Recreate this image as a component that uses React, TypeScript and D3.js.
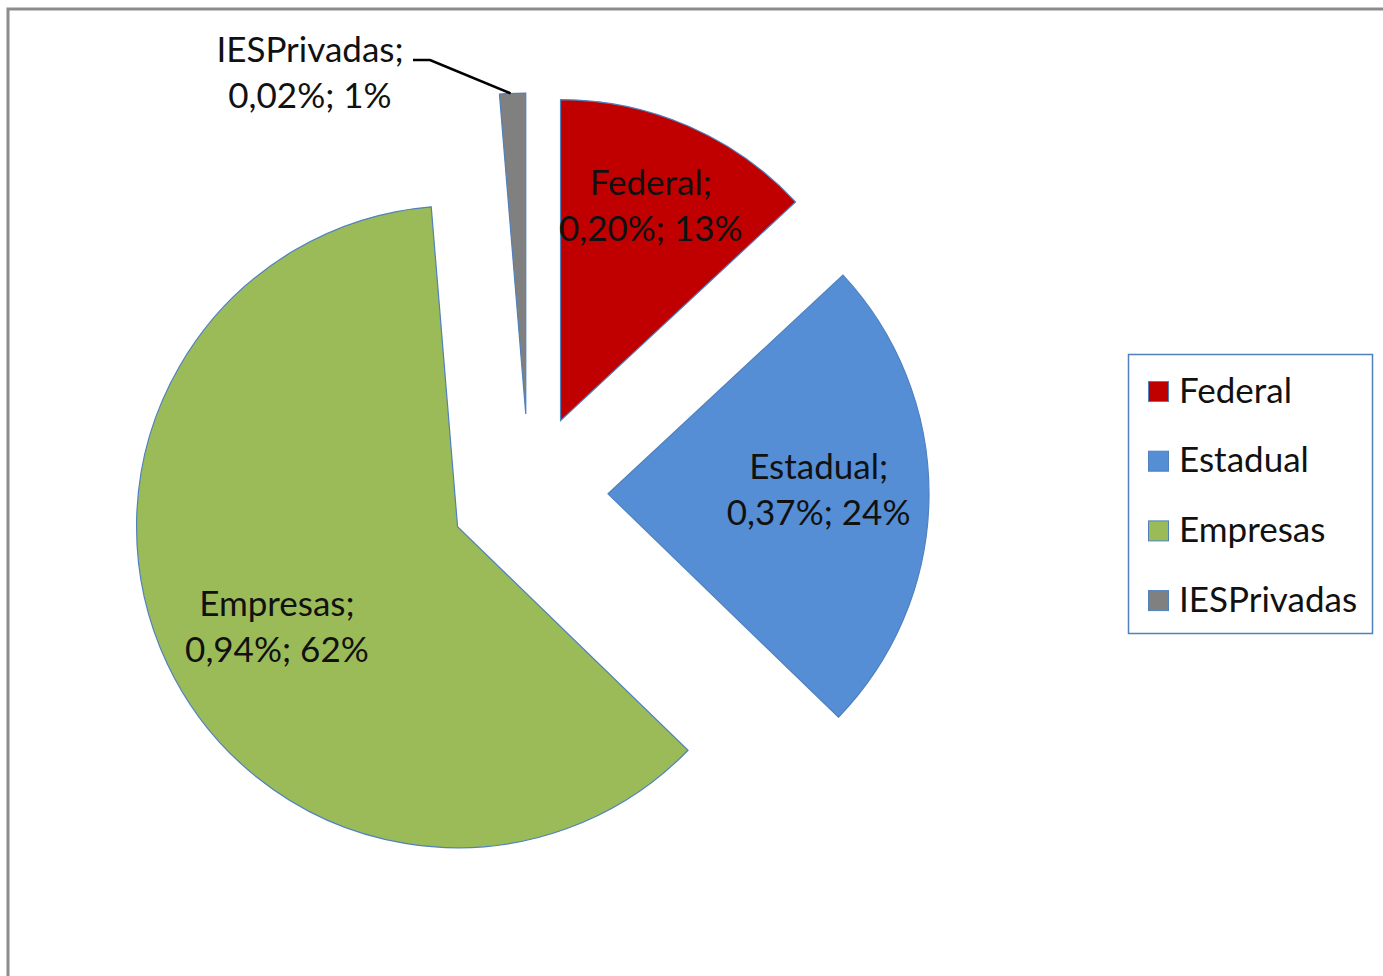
import React from "react";
import * as d3 from "d3";

const categories = ["Federal", "Estadual", "Empresas", "IESPrivadas"];
const values = [0.2, 0.37, 0.94, 0.02];
const valueLabels = ["0,20%", "0,37%", "0,94%", "0,02%"];
const percentLabels = ["13%", "24%", "62%", "1%"];
const colors = ["#C00000", "#558ED5", "#9BBB59", "#808080"];

const W = 1383;
const H = 976;
const CX = 529;
const CY = 493;
const R = 321;
const EXPLODE = 79;
const FONT = "Lato, 'Open Sans', sans-serif";
const FS = 35;

export default function App() {
  const pie = d3
    .pie<number>()
    .sort(null)
    .value((d) => d)
    .startAngle(0)
    .endAngle(2 * Math.PI);
  const arcs = pie(values);
  const arc = d3.arc<d3.PieArcDatum<number>>().innerRadius(0).outerRadius(R);

  const off = (a: number, d: number) => [Math.sin(a) * d, -Math.cos(a) * d];
  const labelFrac = [0.72, 0.65, 0.65, 0];
  const nudge = [
    [-2, -3],
    [2, -6],
    [8, 11],
    [0, 0],
  ];

  return (
    <svg
      width={W}
      height={H}
      style={{ position: "absolute", left: 0, top: 0, background: "#fff" }}
    >
      <rect x={8} y={9} width={2000} height={2000} fill="#fff" stroke="#8c8c8c" strokeWidth={3} />
      {arcs.map((a, i) => {
        const mid = (a.startAngle + a.endAngle) / 2;
        const [ox, oy] = off(mid, EXPLODE);
        return (
          <g key={i} transform={`translate(${CX + ox},${CY + oy})`}>
            <path d={arc(a) || ""} fill={colors[i]} stroke="#4f81bd" strokeWidth={1.2} />
          </g>
        );
      })}
      {arcs.map((a, i) => {
        const mid = (a.startAngle + a.endAngle) / 2;
        const [ox, oy] = off(mid, EXPLODE);
        if (i === 3) {
          const [ex, ey] = off(mid, R);
          const px = CX + ox + ex;
          const py = CY + oy + ey;
          const lx = 310;
          const ly = 73;
          return (
            <g key={"l" + i}>
              <polyline
                points={`${lx + 103},${ly - 13} ${lx + 120},${ly - 13} ${px - 2},${py}`}
                fill="none"
                stroke="#000"
                strokeWidth={2.6}
              />
              <text x={lx} y={ly} textAnchor="middle" fontFamily={FONT} fontSize={FS} fill="#111">
                <tspan x={lx} dy={-11}>{categories[i] + ";"}</tspan>
                <tspan x={lx} dy={46}>{valueLabels[i] + "; " + percentLabels[i]}</tspan>
              </text>
            </g>
          );
        }
        const [lx0, ly0] = off(mid, R * labelFrac[i]);
        const lx = CX + ox + lx0 + nudge[i][0];
        const ly = CY + oy + ly0 + nudge[i][1];
        return (
          <text key={"l" + i} x={lx} y={ly} textAnchor="middle" fontFamily={FONT} fontSize={FS} fill="#111">
            <tspan x={lx} dy={-11}>{categories[i] + ";"}</tspan>
            <tspan x={lx} dy={46}>{valueLabels[i] + "; " + percentLabels[i]}</tspan>
          </text>
        );
      })}
      <g>
        <rect x={1128.5} y={354.5} width={244} height={279} fill="#fff" stroke="#4f81bd" strokeWidth={1.5} />
        {categories.map((c, i) => (
          <g key={c} transform={`translate(1148,${381 + i * 69.7})`}>
            <rect x={0.5} y={0.5} width={20} height={20} fill={colors[i]} stroke="#4f81bd" strokeWidth={1} />
            <text x={31} y={21.5} fontFamily={FONT} fontSize={FS} fill="#111">
              {c}
            </text>
          </g>
        ))}
      </g>
    </svg>
  );
}
